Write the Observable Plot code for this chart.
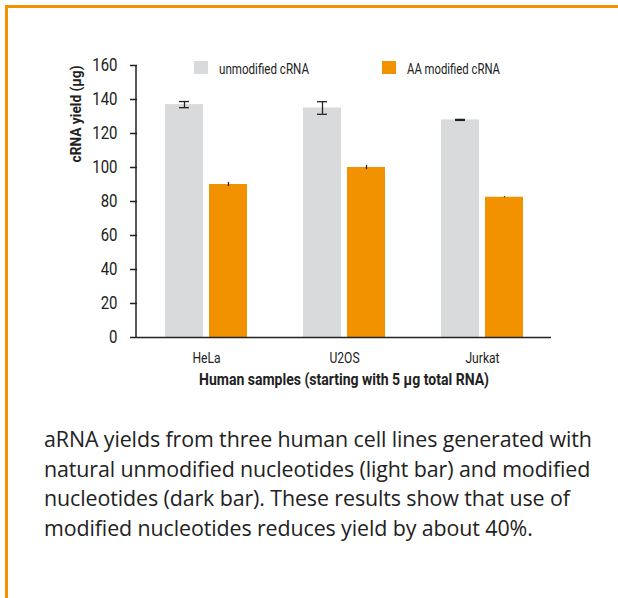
<!DOCTYPE html>
<html>
<head>
<meta charset="utf-8">
<script src="https://cdn.jsdelivr.net/npm/d3@7"></script>
<script src="https://cdn.jsdelivr.net/npm/@observablehq/plot@0.6"></script>
<style>
  html, body { margin: 0; padding: 0; background: #fff; width: 618px; height: 598px; overflow: hidden; }
  #frame { position: absolute; left: 5px; top: 5px; width: 640px; height: 640px;
           border-top: 3px solid #F39200; border-left: 3px solid #F39200; box-sizing: border-box; }
  #chart { position: absolute; left: 0; top: 0; }
  #caption { position: absolute; left: 44px; top: 424px; width: 574px; font-family: "Open Sans", "Noto Sans", sans-serif;
             font-size: 21.4px; line-height: 29.5px; color: #222; letter-spacing: -0.1px; }
</style>
</head>
<body>
<div id="frame"></div>
<div id="chart"></div>
<div id="caption">aRNA yields from three human cell lines generated with natural unmodified nucleotides (light bar) and modified nucleotides (dark bar). These results show that use of modified nucleotides reduces yield by about 40%.</div>
<script>
const samples = ["HeLa", "U2OS", "Jurkat"];
const series = ["unmodified cRNA", "AA modified cRNA"];
const unmodified = [137, 135, 128];
const unmodifiedErr = [1.8, 3.7, 0.3];
const modified = [90, 100, 82.5];
const modifiedErr = [1.2, 1.2, 0.3];
const yTicks = [0, 20, 40, 60, 80, 100, 120, 140, 160];
const colors = ["#D9DADB", "#F39200"];

const data = [];
samples.forEach((s, i) => {
  data.push({sample: s, series: series[0], value: unmodified[i], err: unmodifiedErr[i]});
  data.push({sample: s, series: series[1], value: modified[i], err: modifiedErr[i]});
});

const W = 618, H = 400, mL = 136, mR = 66, mT = 65, mB = 63;
const FONT = 'Roboto, "Liberation Sans", sans-serif';
const plot = Plot.plot({
  width: W, height: H,
  marginLeft: mL, marginRight: mR, marginTop: mT, marginBottom: mB,
  style: {fontFamily: FONT, color: "#222", background: "transparent"},
  fx: {domain: samples, padding: 0, label: null},
  x: {domain: series, paddingInner: 0.133, paddingOuter: 0.605, axis: null},
  y: {domain: [0, 160], label: null},
  color: {domain: series, range: colors},
  marks: [
    Plot.barY(data, {fx: "sample", x: "series", y: "value", fill: "series"}),
    Plot.ruleX(data, {fx: "sample", x: "series", y1: d => d.value - d.err, y2: d => d.value + d.err, stroke: "#222", strokeWidth: 1.3}),
    Plot.tickY(data.filter(d => d.series === series[0]), {fx: "sample", x: "series", y: d => d.value + d.err, stroke: "#222", strokeWidth: 1.3, insetLeft: 14, insetRight: 14}),
    Plot.tickY(data.filter(d => d.series === series[0]), {fx: "sample", x: "series", y: d => d.value - d.err, stroke: "#222", strokeWidth: 1.3, insetLeft: 14, insetRight: 14}),
    Plot.ruleY([0], {stroke: "#222", strokeWidth: 1.5}),
    Plot.axisY({ticks: yTicks, tickSize: 7, tickPadding: 13, label: null, stroke: "#222", strokeWidth: 1.5}),
    Plot.axisFx({anchor: "bottom", tickSize: 0, tickPadding: 14, label: null})
  ]
});
document.getElementById("chart").appendChild(plot);

const svg = d3.select(plot);
svg.selectAll('[aria-label="y-axis tick label"] text').style("font-size", "18px");
svg.selectAll('[aria-label="fx-axis tick label"] text').style("font-size", "15.5px");

// emulate the condensed face of the original by squeezing glyphs horizontally
function condense(sel, factor) {
  sel.each(function () {
    const len = this.getComputedTextLength();
    this.setAttribute("textLength", len * factor);
    this.setAttribute("lengthAdjust", "spacingAndGlyphs");
  });
}
condense(svg.selectAll('[aria-label="y-axis tick label"] text'), 0.83);
condense(svg.selectAll('[aria-label="fx-axis tick label"] text'), 0.78);

const ys = plot.scale("y");
svg.append("line")
  .attr("x1", mL).attr("x2", mL)
  .attr("y1", ys.apply(0)).attr("y2", ys.apply(160))
  .attr("stroke", "#222").attr("stroke-width", 1.5);
svg.append("text")
  .attr("transform", `translate(81,114) rotate(-90)`)
  .attr("text-anchor", "middle").attr("font-family", FONT)
  .style("font-size", "15.5px").style("font-weight", "bold")
  .text("cRNA yield (µg)")
  .attr("textLength", 97).attr("lengthAdjust", "spacingAndGlyphs");
svg.append("text")
  .attr("x", (mL + (W - mR)) / 2).attr("y", 385)
  .attr("text-anchor", "middle").attr("font-family", FONT)
  .style("font-size", "16px").style("font-weight", "bold")
  .text("Human samples (starting with 5 µg total RNA)")
  .attr("textLength", 290).attr("lengthAdjust", "spacingAndGlyphs");

const legendPos = [[194, 219, 90], [382, 407, 93]];
series.forEach((s, i) => {
  svg.append("rect").attr("x", legendPos[i][0]).attr("y", 61).attr("width", 14).attr("height", 13).attr("fill", colors[i]);
  svg.append("text").attr("x", legendPos[i][1]).attr("y", 73.5).attr("font-family", FONT)
    .attr("text-anchor", "start")
    .style("font-size", "14px").attr("fill", "#222").text(s)
    .attr("textLength", legendPos[i][2]).attr("lengthAdjust", "spacingAndGlyphs");
});
</script>
</body>
</html>
